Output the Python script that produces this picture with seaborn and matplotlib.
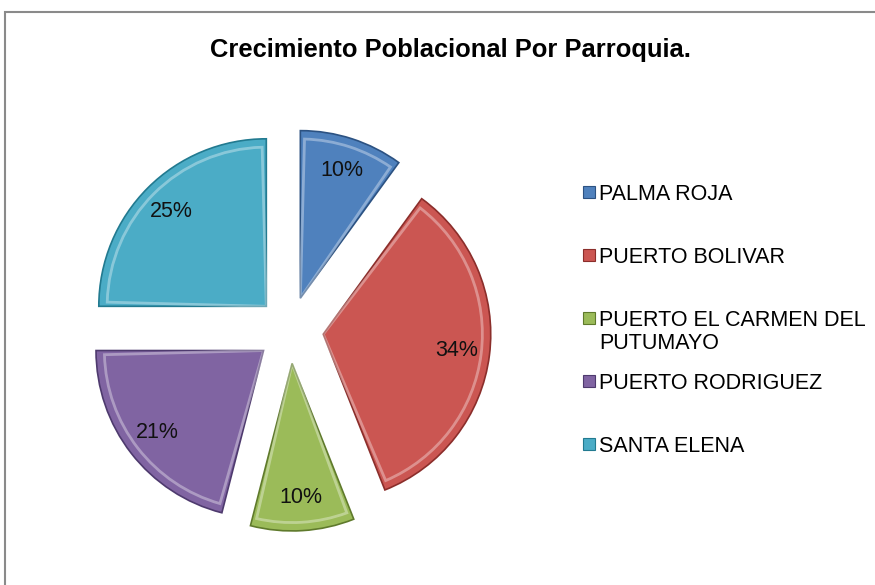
import matplotlib
matplotlib.use("Agg")
import matplotlib.pyplot as plt
import matplotlib.patches as mpatches
import seaborn as sns

# Data
parroquias = ["PALMA ROJA", "PUERTO BOLIVAR", "PUERTO EL CARMEN DEL\nPUTUMAYO",
              "PUERTO RODRIGUEZ", "SANTA ELENA"]
porcentajes = [10, 34, 10, 21, 25]
colores = ["#4F81BD", "#CB5652", "#9BBB59", "#8064A2", "#4BACC6"]
bordes = ["#2C5282", "#8B2E2B", "#5F7A2C", "#4E3A6E", "#227A90"]

sns.set_theme(style="white")
plt.rcParams["font.family"] = ["Liberation Sans", "DejaVu Sans"]

W, H = 875, 585
fig = plt.figure(figsize=(W / 100, H / 100), dpi=100)
fig.patch.set_facecolor("white")

# chart frame (cut off at right and bottom like the reference)
frame = mpatches.Rectangle((5 / W, -0.05), 1.0, 1 - 12 / H + 0.05, transform=fig.transFigure,
                           fill=False, edgecolor="#8a8a8a", linewidth=1.5)
fig.patches.append(frame)

fig.text(450 / W, 1 - 57 / H, "Crecimiento Poblacional Por Parroquia.",
         ha="center", va="baseline", fontsize=18.4, fontweight="bold", color="black")

# pie
ax = fig.add_axes([89 / W, 54 / H, 402 / W, 402 / H])
palette = sns.color_palette(colores)
wedges, texts, autotexts = ax.pie(
    porcentajes, explode=[0.2] * len(porcentajes), colors=palette,
    startangle=90, counterclock=False,
    autopct=lambda p: f"{p:.0f}%", pctdistance=0.8,
    textprops=dict(fontsize=15.5, color="#111111"),
    wedgeprops=dict(linewidth=1.2),
)
for w, b in zip(wedges, bordes):
    w.set_edgecolor(b)
    # light inner rim for a bevel look
    cx, cy = w.center
    inner = mpatches.Wedge((cx, cy), w.r * 0.95, w.theta1 + 1.5, w.theta2 - 1.5,
                           fill=False, edgecolor="white", alpha=0.35, linewidth=2)
    ax.add_patch(inner)
ax.set_xlim(-1.2, 1.2)
ax.set_ylim(-1.2, 1.2)
ax.set_aspect("equal")
ax.axis("off")

# legend, laid out like the Excel one
for i, (lab, col, b) in enumerate(zip(parroquias, colores, bordes)):
    yc = 192 + i * 63
    sq = mpatches.Rectangle((583 / W, 1 - (yc + 6) / H), 12 / W, 12 / H,
                            transform=fig.transFigure, facecolor=col, edgecolor=b, linewidth=0.8)
    fig.patches.append(sq)
    fig.text(599 / W, 1 - (yc - 7.8) / H, lab, ha="left", va="top",
             fontsize=15.5, color="black", linespacing=1.1)

fig.savefig("out.png", dpi=100)
